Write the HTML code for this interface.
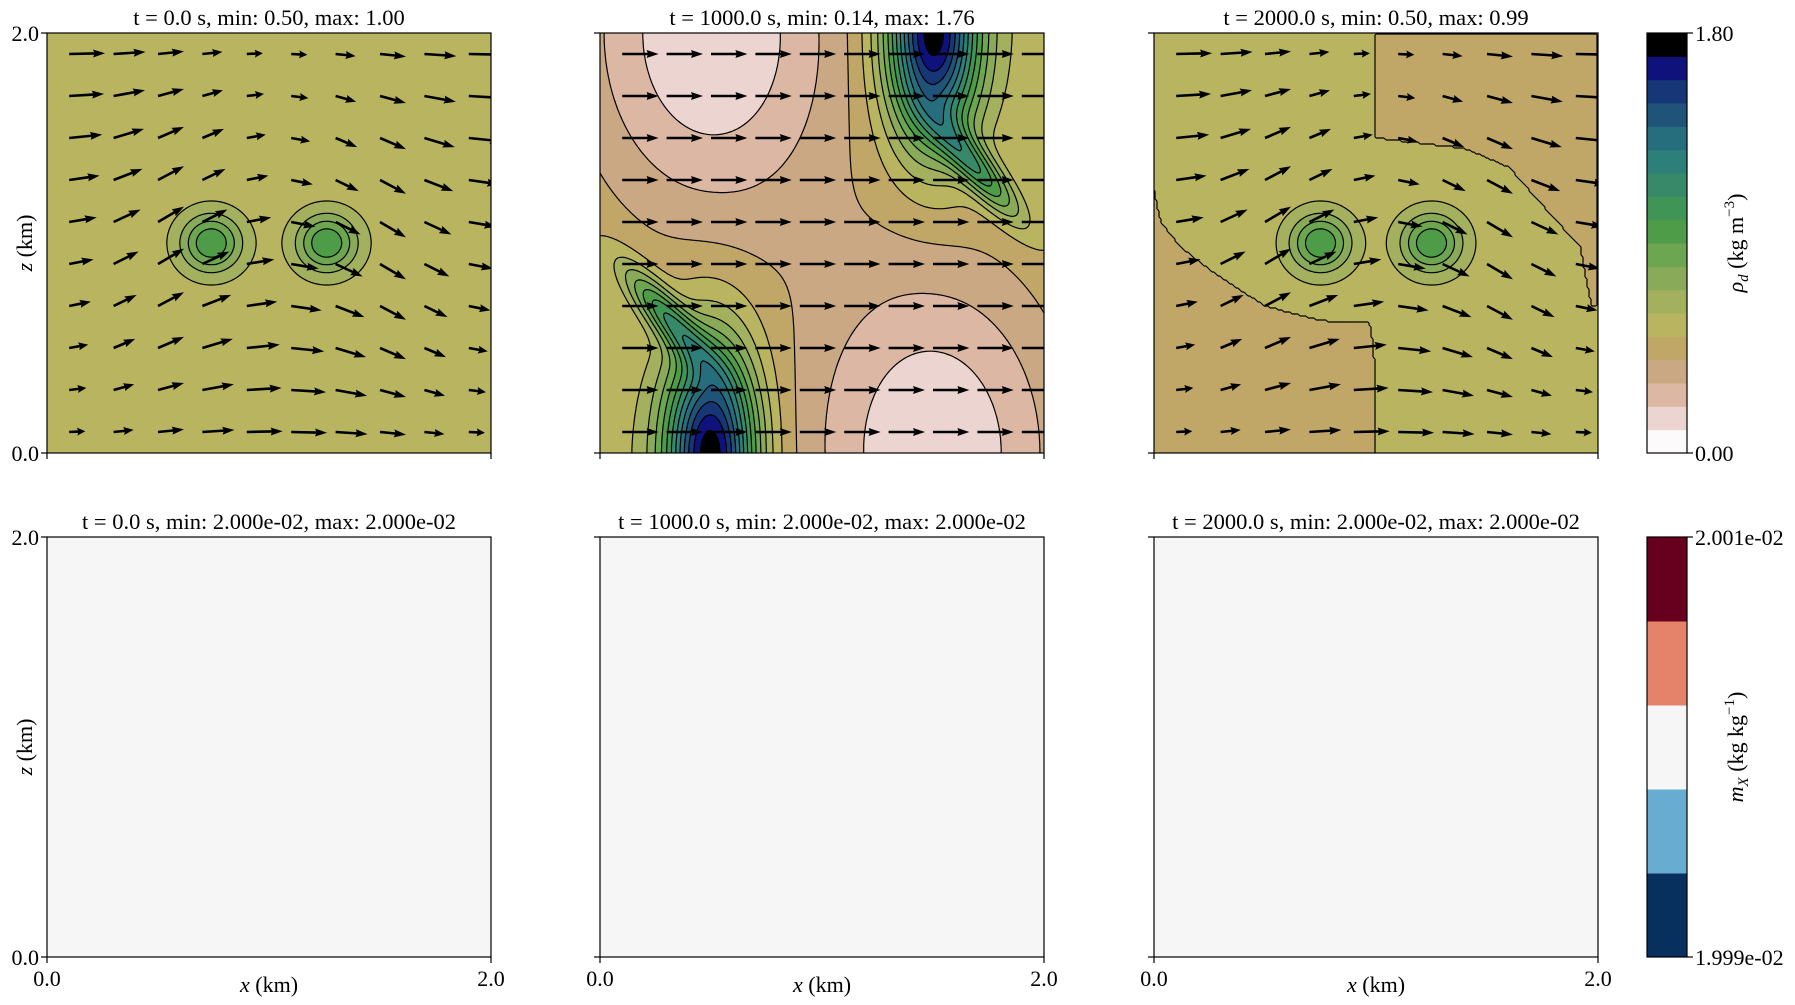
<!DOCTYPE html>
<html><head><meta charset="utf-8">
<style>
html,body{margin:0;padding:0;background:#fff;}
#wrap{position:relative;width:1795px;height:1005px;overflow:hidden;}
svg{position:absolute;left:0;top:0;}
text{font-family:"Liberation Serif",serif;fill:#000;}
</style></head>
<body>
<div id="wrap">
<svg id="figsvg" width="1795" height="1005" xmlns="http://www.w3.org/2000/svg"></svg>
</div>
<script>
// ---- data ----
const panelTitlesTop = ["t = 0.0 s, min: 0.50, max: 1.00","t = 1000.0 s, min: 0.14, max: 1.76","t = 2000.0 s, min: 0.50, max: 0.99"];
const panelTitlesBottom = ["t = 0.0 s, min: 2.000e-02, max: 2.000e-02","t = 1000.0 s, min: 2.000e-02, max: 2.000e-02","t = 2000.0 s, min: 2.000e-02, max: 2.000e-02"];
const rhoColors = ["#fcfafa","#ecd4d0","#dcb8a4","#c9a883","#c0a768","#b8b45f","#a3b05e","#89aa58","#6ca650","#4e9c47","#409456","#37896a","#2d7f79","#266d7d","#1f5377","#173677","#0f127a","#000000"];
const rhoTicks = ["0.00","1.80"];
const mxColors = ["#08305e","#68acd1","#f6f6f6","#e5836a","#67001f"];
const mxTicks = ["1.999e-02","2.001e-02"];
const baseLevels = [5.5, 5.6, 5.5];
// blobs: [cx km, cz km, amplitude (bands), sigma-long, sigma-wide, angle deg]
const blobs0 = [[0.74,1.0,4.5,0.135,0.135,0],[1.26,1.0,4.5,0.135,0.135,0]];
const blobs1 = [[0.5,0.0,12.5,0.5,0.2,90],[1.5,2.0,12.5,0.5,0.2,90],[0.3,0.65,5.5,0.3,0.08,-52],[1.7,1.35,5.5,0.3,0.08,-52],[0.5,2.0,-4.5,1.0,0.65,90],[1.5,0.0,-4.5,1.0,0.65,90]];
const blobs2 = [[0.75,1.0,4.5,0.135,0.135,0],[1.25,1.0,4.5,0.135,0.135,0]];
const lowRegions2 = [
 [[1.0,2],[1.0,1.5],[1.4,1.45],[1.6,1.36],[1.75,1.18],[1.92,0.98],[1.97,0.7],[2,0.7],[2,2]],
 [[0,1.25],[0.03,1.1],[0.12,0.98],[0.28,0.85],[0.5,0.7],[0.75,0.63],[0.97,0.62],[0.99,0.5],[1.0,0],[0,0]]
];
const quiverX = [0.1,0.3,0.5,0.7,0.9,1.1,1.3,1.5,1.7,1.9];
const quiverZ = [1.9,1.7,1.5,1.3,1.1,0.9,0.7,0.5,0.3,0.1];
const uRot = [
[1.38,1.23,1.0,0.77,0.62,0.62,0.77,1.0,1.23,1.38],
[1.34,1.21,1.0,0.79,0.66,0.66,0.79,1.0,1.21,1.34],
[1.27,1.17,1.0,0.83,0.73,0.73,0.83,1.0,1.17,1.27],
[1.17,1.11,1.0,0.89,0.83,0.83,0.89,1.0,1.11,1.17],
[1.06,1.04,1.0,0.96,0.94,0.94,0.96,1.0,1.04,1.06],
[0.94,0.96,1.0,1.04,1.06,1.06,1.04,1.0,0.96,0.94],
[0.83,0.89,1.0,1.11,1.17,1.17,1.11,1.0,0.89,0.83],
[0.73,0.83,1.0,1.17,1.27,1.27,1.17,1.0,0.83,0.73],
[0.66,0.79,1.0,1.21,1.34,1.34,1.21,1.0,0.79,0.66],
[0.62,0.77,1.0,1.23,1.38,1.38,1.23,1.0,0.77,0.62]];
const wRot = [
[0.03,0.08,0.10,0.08,0.03,-0.03,-0.08,-0.10,-0.08,-0.03],
[0.08,0.22,0.27,0.22,0.08,-0.08,-0.22,-0.27,-0.22,-0.08],
[0.13,0.35,0.43,0.35,0.13,-0.13,-0.35,-0.43,-0.35,-0.13],
[0.17,0.43,0.53,0.43,0.17,-0.17,-0.43,-0.53,-0.43,-0.17],
[0.18,0.48,0.59,0.48,0.18,-0.18,-0.48,-0.59,-0.48,-0.18],
[0.18,0.48,0.59,0.48,0.18,-0.18,-0.48,-0.59,-0.48,-0.18],
[0.17,0.43,0.53,0.43,0.17,-0.17,-0.43,-0.53,-0.43,-0.17],
[0.13,0.35,0.43,0.35,0.13,-0.13,-0.35,-0.43,-0.35,-0.13],
[0.08,0.22,0.27,0.22,0.08,-0.08,-0.22,-0.27,-0.22,-0.08],
[0.03,0.08,0.10,0.08,0.03,-0.03,-0.08,-0.10,-0.08,-0.03]];
const uShear = [1.4,1.4,1.4,1.4,1.4,1.4,1.4,1.4,1.4,1.4];

// ---- layout ----
const PX=[47,600,1154], PW=444, PH=420, TOPY=33, BOTY=537, CBX=1647, CBW=40;
const NS="http://www.w3.org/2000/svg";
const root=document.getElementById('figsvg');
function xPix(i,x){return PX[i]+x/2*PW;}
function zPix(y0,z){return y0+PH-z/2*PH;}
function mk(tag,attrs,parent){const e=document.createElementNS(NS,tag);for(const k in attrs)e.setAttribute(k,attrs[k]);(parent||root).appendChild(e);return e;}

const defs=mk('defs',{});
for(let i=0;i<3;i++){const cp=mk('clipPath',{id:'clip'+i},defs);mk('rect',{x:PX[i],y:TOPY,width:PW,height:PH},cp);}

function inPoly(x,z,p){let c=false;for(let i=0,j=p.length-1;i<p.length;j=i++){const xi=p[i][0],zi=p[i][1],xj=p[j][0],zj=p[j][1];if(((zi>z)!=(zj>z))&&(x<(xj-xi)*(z-zi)/(zj-zi)+xi))c=!c;}return c;}
function blobSum(bl,x,z){let s=0;for(const b of bl){const a=b[5]*Math.PI/180,dx=x-b[0],dz=z-b[1];const al=(dx*Math.cos(a)+dz*Math.sin(a))/b[3],ac=(-dx*Math.sin(a)+dz*Math.cos(a))/b[4];s+=b[2]*Math.exp(-(al*al)-(ac*ac));}return s;}
const fields=[
 function(x,z){return baseLevels[0]+blobSum(blobs0,x,z);},
 function(x,z){return baseLevels[1]+blobSum(blobs1,x,z);},
 function(x,z){let f=baseLevels[2]+blobSum(blobs2,x,z);for(const p of lowRegions2){if(inPoly(x,z,p))f-=1;}return f;}
];

function drawField(i){
  const f=fields[i];
  const g=mk('g',{});
  
  
  const st=2;
  const pathsByBand={};
  for(let py=0;py<PH;py+=st){
    let runStart=0,runBand=-1;
    for(let px=0;px<=PW;px+=st){
      let b=-2;
      if(px<PW){const x=(px+st/2)/PW*2,z=2-(py+st/2)/PH*2;b=Math.max(0,Math.min(17,Math.floor(f(x,z))));}
      if(b!==runBand){
        if(runBand>=0){(pathsByBand[runBand]=pathsByBand[runBand]||[]).push('M'+(PX[i]+runStart)+','+(TOPY+py)+'h'+(px-runStart)+'v'+(st+0.3)+'h'+(-(px-runStart))+'z');}
        runBand=b;runStart=px;
      }
    }
  }
  for(const b in pathsByBand){
    const p=mk('path',{d:pathsByBand[b].join(''),fill:rhoColors[b]},g);
    
    
  }
  const cs=2,nx=PW/cs+1,ny=PH/cs+1,grid=[];
  for(let j=0;j<ny;j++){const row=[];for(let k=0;k<nx;k++)row.push(f(k*cs/PW*2,2-j*cs/PH*2));grid.push(row);}
  const segs=[];
  for(let L=1;L<=17;L++){
    for(let j=0;j<ny-1;j++)for(let k=0;k<nx-1;k++){
      const a=grid[j][k],bb=grid[j][k+1],c=grid[j+1][k+1],d=grid[j+1][k];
      const X0=PX[i]+k*cs,Y0=TOPY+j*cs,pts=[];
      if((a<L)!=(bb<L))pts.push([X0+cs*(L-a)/(bb-a),Y0]);
      if((bb<L)!=(c<L))pts.push([X0+cs,Y0+cs*(L-bb)/(c-bb)]);
      if((c<L)!=(d<L))pts.push([X0+cs*(1-(L-c)/(d-c)),Y0+cs]);
      if((d<L)!=(a<L))pts.push([X0,Y0+cs*(1-(L-d)/(a-d))]);
      for(let q=0;q+1<pts.length;q+=2)segs.push('M'+pts[q][0].toFixed(1)+','+pts[q][1].toFixed(1)+'L'+pts[q+1][0].toFixed(1)+','+pts[q+1][1].toFixed(1));
    }
  }
  const cp=mk('path',{d:segs.join(''),fill:"none",stroke:"#000","stroke-width":1.2},g);
  
  
}
for(let i=0;i<3;i++){try{drawField(i);}catch(e){}}

for(let i=0;i<3;i++){
  const r=mk('rect',{x:PX[i],y:BOTY,width:PW,height:PH,fill:"#f6f6f6"});
  
  
}
// quivers
const ASC=26;
for(let i=0;i<3;i++){
  const g=mk('g',{"clip-path":'url(#clip'+i+')'});
  
  
  for(let r=0;r<quiverZ.length;r++)for(let c=0;c<quiverX.length;c++){
    const u=i==1?uShear[c]:uRot[r][c], w=i==1?0:wRot[r][c];
    const x0=xPix(i,quiverX[c]),y0=zPix(TOPY,quiverZ[r]);
    const len=Math.hypot(u,w)*ASC, ang=Math.atan2(-w,u)*180/Math.PI;
    const hl=Math.min(11,len*0.45), shw=1.3, hw=4;
    const dd='M0,'+(-shw)+' L'+(len-hl)+','+(-shw)+' L'+(len-hl-1)+','+(-hw)+' L'+len+',0 L'+(len-hl-1)+','+hw+' L'+(len-hl)+','+shw+' L0,'+shw+' Z';
    const p=mk('path',{d:dd,fill:"#000",transform:'translate('+x0+','+y0+') rotate('+ang+')'},g);
    
    
  }
}
// frames, ticks, titles
for(let row=0;row<2;row++){
  const y0=row?BOTY:TOPY;
  for(let i=0;i<3;i++){
    const fr=mk('rect',{x:PX[i],y:y0,width:PW,height:PH,fill:"none",stroke:"#000","stroke-width":1.2});
    
    
    for(const z of [0,2]) mk('line',{x1:PX[i]-6,x2:PX[i],y1:zPix(y0,z),y2:zPix(y0,z),stroke:"#000","stroke-width":1.2});
    for(const x of [0,2]) mk('line',{x1:xPix(i,x),x2:xPix(i,x),y1:y0+PH,y2:y0+PH+6,stroke:"#000","stroke-width":1.2});
    const t=mk('text',{x:PX[i]+PW/2,y:y0-8,"text-anchor":"middle","font-size":22.5});
    t.textContent=(row?panelTitlesBottom:panelTitlesTop)[i];
    
    
    if(i==0){
      for(const z of [0,2]){const l=mk('text',{x:PX[0]-8,y:zPix(y0,z)+8,"text-anchor":"end","font-size":22});l.textContent=z.toFixed(1);
        
        }
      const yl=mk('text',{x:0,y:0,"text-anchor":"middle","font-size":22,transform:'translate(32,'+(y0+PH/2)+') rotate(-90)'});
      const t1=mk('tspan',{"font-style":"italic"},yl);t1.textContent='z';
      const t2=mk('tspan',{},yl);t2.textContent=' (km)';
      
      
    }
    if(row==1){
      for(const x of [0,2]){const l=mk('text',{x:xPix(i,x),y:y0+PH+29,"text-anchor":"middle","font-size":22});l.textContent=x.toFixed(1);
        
        }
      const xl=mk('text',{x:PX[i]+PW/2,y:y0+PH+35,"text-anchor":"middle","font-size":22});
      const t1=mk('tspan',{"font-style":"italic"},xl);t1.textContent='x';
      const t2=mk('tspan',{},xl);t2.textContent=' (km)';
      
      
    }
  }
}
// colorbars
function colorbar(y0,cols,ticks,sym,sub,unit,expo,nm){
  const g=mk('g',{});
  
  
  const n=cols.length,h=PH/n;
  cols.forEach(function(c,k){const r=mk('rect',{x:CBX,y:y0+PH-(k+1)*h,width:CBW,height:h+0.5,fill:c},g);
    
    });
  mk('rect',{x:CBX,y:y0,width:CBW,height:PH,fill:"none",stroke:"#000","stroke-width":1.2},g);
  [y0+PH,y0].forEach(function(yy,k){mk('line',{x1:CBX+CBW,x2:CBX+CBW+6,y1:yy,y2:yy,stroke:"#000","stroke-width":1.2},g);
    const t=mk('text',{x:CBX+CBW+8,y:yy+8,"font-size":22},g);t.textContent=ticks[k];
    
    });
  const l=mk('text',{x:0,y:0,"text-anchor":"middle","font-size":22,transform:'translate(1743,'+(y0+PH/2)+') rotate(-90)'},g);
  const a=mk('tspan',{"font-style":"italic"},l);a.textContent=sym;
  const b=mk('tspan',{"font-style":"italic","font-size":15,dy:5},l);b.textContent=sub;
  const c=mk('tspan',{dy:-5},l);c.textContent=unit;
  const d=mk('tspan',{"font-size":15,dy:-9},l);d.textContent=expo;
  const e=mk('tspan',{dy:9},l);e.textContent=')';
  
  
}
colorbar(TOPY,rhoColors,rhoTicks,'ρ','d',' (kg m','−3','density-colorbar');
colorbar(BOTY,mxColors,mxTicks,'m','X',' (kg kg','−1','tracer-colorbar');
</script>
</body></html>
